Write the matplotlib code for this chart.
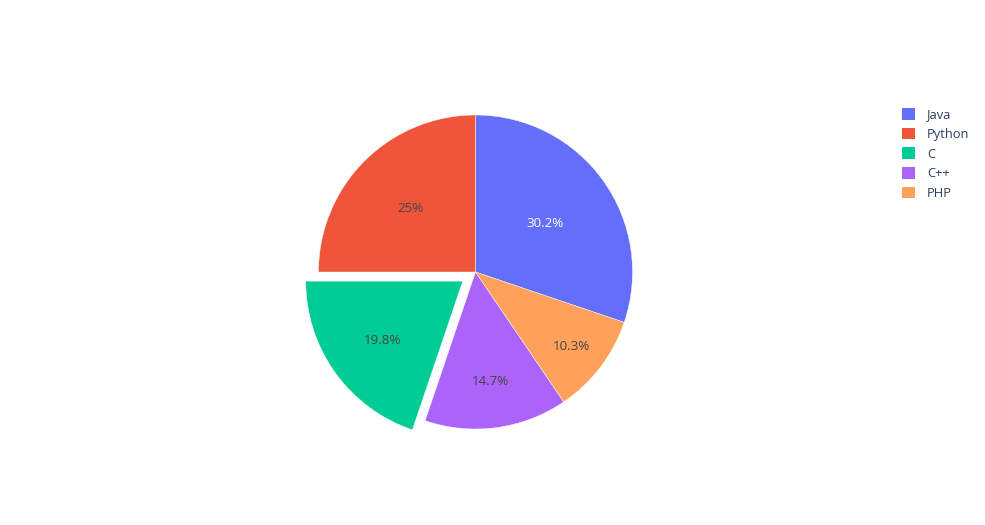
import matplotlib
matplotlib.use("Agg")
import matplotlib.pyplot as plt
from matplotlib.patches import Patch
import numpy as np

labels = ["Java", "Python", "C", "C++", "PHP"]
values = [30.2, 25.0, 19.8, 14.7, 10.3]
colors = ["#636efa", "#EF553B", "#00cc96", "#ab63fa", "#FFA15A"]
pulls = [0, 0, 0.1, 0, 0]
text_colors = ["white", "#444444", "#444444", "#444444", "#444444"]
text_radius = [0.547, 0.583, 0.631, 0.694, 0.766]

W, H = 985, 525
fig = plt.figure(figsize=(W / 100, H / 100), dpi=100)
plt.rcParams['font.family'] = ['Open Sans', 'DejaVu Sans']

cx, cy, R = 475.5, 272, 157
k = 1.3
half = R * k
ax = fig.add_axes([(cx - half) / W, (H - cy - half) / H, 2 * half / W, 2 * half / H])

total = sum(values)
start = 90 - 360 * values[0] / total
wedges, _ = ax.pie(values, colors=colors, explode=pulls, startangle=start,
                   counterclock=True, radius=1,
                   wedgeprops=dict(linewidth=0.3, edgecolor="white"))
ax.set_xlim(-k, k)
ax.set_ylim(-k, k)
ax.set_aspect("auto")
ax.axis("off")

def fmt(v):
    p = v / total * 100
    s = f"{p:.3g}"
    return s + "%"

for w, v, tc, tr in zip(wedges, values, text_colors, text_radius):
    ang = np.deg2rad((w.theta1 + w.theta2) / 2)
    x0, y0 = w.center
    ax.text(x0 + tr * np.cos(ang), y0 + tr * np.sin(ang), fmt(v),
            ha="center", va="center_baseline", fontsize=9.6, color=tc)

handles = [Patch(facecolor=c, edgecolor="none") for c in colors]
leg = fig.legend(handles, labels, loc="upper left",
                 bbox_to_anchor=(902 / W, 1 - 108 / H), frameon=False,
                 fontsize=9.3, handlelength=1.0, handleheight=1.0,
                 handletextpad=0.95, labelspacing=0.5, borderaxespad=0,
                 borderpad=0)
for t in leg.get_texts():
    t.set_color("#2a3f5f")

fig.savefig("out.png", dpi=100)
